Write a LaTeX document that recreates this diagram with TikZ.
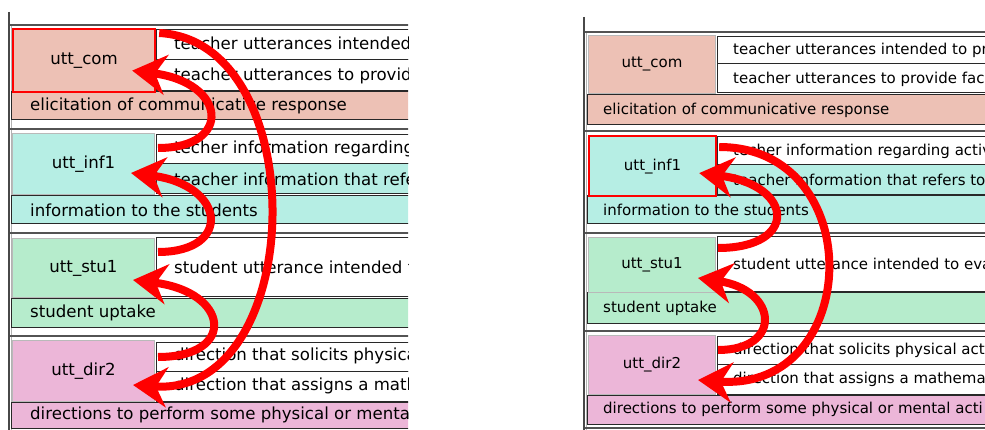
\documentclass[tikz,border=0pt]{standalone}
\usepackage{fontspec}
\setmainfont{DejaVu Sans}
\usetikzlibrary{arrows.meta, calc}

\definecolor{comfill}{RGB}{237,193,181}
\definecolor{inffill}{RGB}{182,238,228}
\definecolor{stufill}{RGB}{182,236,204}
\definecolor{dirfill}{RGB}{236,182,216}
\definecolor{rim}{RGB}{40,40,40}

\tikzset{
  tagbox/.style={draw=gray!55, line width=1pt, anchor=north west, inner sep=0pt},
  picked/.style={draw=red, line width=2.2pt},
  celltext/.style={anchor=west, inner sep=0pt},
  cell/.style={draw=rim, line width=1pt},
  sepline/.style={draw=rim!80, line width=1.4pt},
  link/.style={red, line width=8pt, -{Stealth[length=34pt, width=40pt, inset=11pt]}}
}

\begin{document}
\begin{tikzpicture}[x=1pt, y=-1pt]
  \useasboundingbox (0,0) rectangle (985,430);

  % left window
  \begin{scope}[font=\fontsize{16.6}{19}\selectfont]
    \clip (0,0) rectangle (408,430);
    \draw[line width=1.6pt, rim!85] (9,12) -- (9,430);
    \draw[line width=1pt, gray!60] (11,25) -- (11,430);
    \foreach \y in {25,129,233,336} \draw[sepline] (10,\y) -- (420,\y);
    % rows on the right of each tag
    \foreach \ya/\yb/\c in {30/60/white, 60/91/white, 135/164/white, 164/194/inffill,
                            238/297/white, 342/371/white, 371/401/white}
      \filldraw[cell, fill=\c] (156,\ya) rectangle (420,\yb);
    % description bars
    \foreach \ya/\yb/\c in {92/120/comfill, 196/224/inffill, 299/327/stufill, 402/428/dirfill}
      \filldraw[cell, fill=\c] (11,\ya) rectangle (420,\yb);

    \node[tagbox, fill=comfill, picked, minimum width=142pt, minimum height=63pt] (lcom) at (12,28) {utt\_com};
    \node[tagbox, fill=inffill, minimum width=142pt, minimum height=61pt] (linf) at (12,133) {utt\_inf1};
    \node[tagbox, fill=stufill, minimum width=142pt, minimum height=59pt] (lstu) at (12,238) {utt\_stu1};
    \node[tagbox, fill=dirfill, minimum width=142pt, minimum height=61pt] (ldir) at (12,340) {utt\_dir2};

    \node[celltext] (lc1) at (174,45) {teacher utterances intended to pr};
    \node[celltext] (lc2) at (174,76) {teacher utterances to provide fac};
    \node[celltext] (lc3) at (30,106) {elicitation of communicative response};
    \node[celltext] (li1) at (174,149) {techer information regarding activ};
    \node[celltext] (li2) at (174,179) {teacher information that refers to};
    \node[celltext] (li3) at (30,210) {information to the students};
    \node[celltext] (ls1) at (174,267) {student utterance intended to eva};
    \node[celltext] (ls2) at (30,313) {student uptake};
    \node[celltext] (ld1) at (174,356) {direction that solicits physical act};
    \node[celltext] (ld2) at (174,386) {direction that assigns a mathema};
    \node[celltext] (ld3) at (30,415) {directions to perform some physical or mental acti};
  \end{scope}

  % right window
  \begin{scope}[font=\fontsize{15}{17}\selectfont]
    \clip (570,0) rectangle (985,430);
    \draw[line width=1.6pt, rim!85] (584,17) -- (584,430);
    \draw[line width=1pt, gray!60] (586,32) -- (586,430);
    \foreach \y in {32,131,233,331,428} \draw[sepline] (585,\y) -- (990,\y);
    \foreach \ya/\yb/\c in {37/64/white, 64/93/white, 137/165/white, 165/195/inffill,
                            237/292/white, 336/364/white, 364/394/white}
      \filldraw[cell, fill=\c] (717,\ya) rectangle (990,\yb);
    \foreach \ya/\yb/\c in {95/125/comfill, 196/224/inffill, 293/323/stufill, 395/424/dirfill}
      \filldraw[cell, fill=\c] (587,\ya) rectangle (990,\yb);

    \node[tagbox, fill=comfill, minimum width=127pt, minimum height=58pt] (rcom) at (588,35) {utt\_com};
    \node[tagbox, fill=inffill, picked, minimum width=127pt, minimum height=60pt] (rinf) at (588,135) {utt\_inf1};
    \node[tagbox, fill=stufill, minimum width=127pt, minimum height=55pt] (rstu) at (588,237) {utt\_stu1};
    \node[tagbox, fill=dirfill, minimum width=127pt, minimum height=59pt] (rdir) at (588,335) {utt\_dir2};

    \node[celltext] (rc1) at (733,50) {teacher utterances intended to pr};
    \node[celltext] (rc2) at (733,79) {teacher utterances to provide fac};
    \node[celltext] (rc3) at (603,110) {elicitation of communicative response};
    \node[celltext] (ri1) at (733,151) {techer information regarding activ};
    \node[celltext] (ri2) at (733,180) {teacher information that refers to};
    \node[celltext] (ri3) at (603,210) {information to the students};
    \node[celltext] (rs1) at (733,264) {student utterance intended to eva};
    \node[celltext] (rs2) at (603,308) {student uptake};
    \node[celltext] (rd1) at (733,350) {direction that solicits physical act};
    \node[celltext] (rd2) at (733,379) {direction that assigns a mathema};
    \node[celltext] (rd3) at (603,409) {directions to perform some physical or mental acti};
  \end{scope}

  % arrows, left window
  \draw[link] ($(lcom.north east)+(3,5)$) .. controls +(155,8) and +(175,12) .. ($(ldir.east)+(-22,14)$);
  \draw[link] ($(linf.north east)+(3,15)$) .. controls +(75,0) and +(95,12) .. ($(lcom.east)+(-24,10)$);
  \draw[link] ($(lstu.north east)+(3,14)$) .. controls +(75,0) and +(95,12) .. ($(linf.east)+(-24,9)$);
  \draw[link] ($(ldir.north east)+(3,17)$) .. controls +(79,0) and +(97,12) .. ($(lstu.east)+(-22,12)$);

  % arrows, right window
  \draw[link] ($(rinf.north east)+(2,12)$) .. controls +(150,0) and +(165,12) .. ($(rdir.east)+(-18,15)$);
  \draw[link] ($(rstu.north east)+(2,11)$) .. controls +(81,0) and +(95,12) .. ($(rinf.east)+(-18,7)$);
  \draw[link] ($(rdir.north east)+(2,15)$) .. controls +(65,0) and +(80,12) .. ($(rstu.east)+(-18,13)$);
\end{tikzpicture}
\end{document}
